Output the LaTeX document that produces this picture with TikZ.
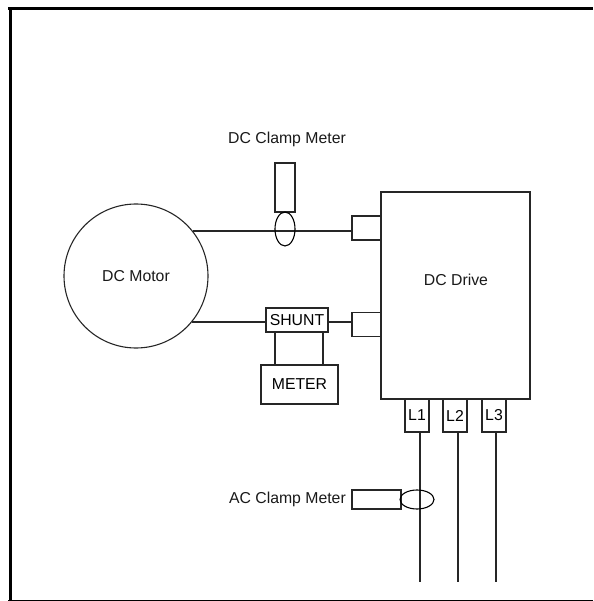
\documentclass[tikz,border=0pt]{standalone}
\usepackage{fontspec}
\setmainfont{Liberation Sans}
\usetikzlibrary{shapes.geometric}
\begin{document}
\begin{tikzpicture}[
    x=1pt, y=-1pt,
    frame line/.style={draw=black, line width=3pt},
    wire line/.style={draw=black!85, line width=1.2pt},
    part box/.style={rectangle, draw=black!85, line width=1.1pt, inner sep=0pt, outer sep=0pt, font=\fontsize{15.8}{18}\selectfont},
    clamp ring/.style={ellipse, draw=black, line width=1.1pt, inner sep=0pt, outer sep=0pt},
    plain label/.style={inner sep=0pt, font=\fontsize{15.8}{18}\selectfont, text=black!90}
]
\useasboundingbox (0,0) rectangle (593,601);

% Frame
\draw[frame line] (8,8.5) -- (593,8.5);
\draw[frame line] (10.5,8.5) -- (10.5,601);
\draw[frame line, line width=2pt] (8,600.5) -- (593,600.5);

% Main blocks
\node[part box, circle, minimum size=144pt] (motor) at (136,276) {};
\node[plain label] (motor text) at (136,276) {DC Motor};
\node[part box, minimum width=149pt, minimum height=207pt] (drive) at (455.5,295.5) {};
\node[plain label] (drive text) at (456,280) {DC Drive};

% Drive terminals
\node[part box, minimum width=29pt, minimum height=24pt] (port top) at (366.5,228) {};
\node[part box, minimum width=29pt, minimum height=24pt] (port low) at (366.5,324.5) {};
\foreach \name/\x in {L1/417,L2/455,L3/494} {
    \node[part box, minimum width=24pt, minimum height=33pt] (\name) at (\x,415.5) {\name};
}

% Shunt and its meter
\node[part box, minimum width=62pt, minimum height=24pt] (shunt) at (297,320) {SHUNT};
\node[part box, minimum width=77pt, minimum height=39pt] (meter) at (299.5,384.5) {METER};

% Motor wires
\coordinate (top wire) at (352,231);
\coordinate (low wire) at (266,322);
\draw[wire line] (motor.38.7 |- top wire) -- (top wire);
\draw[wire line] (motor.-39.7 |- low wire) -- (low wire);
\draw[wire line] (shunt.east |- low wire) -- (port low.west |- low wire);
\draw[wire line] (275,332) -- (275,365);
\draw[wire line] (323,332) -- (323,365);

% Line wires
\foreach \name/\x in {L1/420,L2/458,L3/496} {
    \coordinate (\name end) at (\x,582);
    \draw[wire line] (\name.south -| \name end) -- (\name end);
}

% DC clamp
\node[plain label] (dc label) at (287,139.5) {DC Clamp Meter};
\node[part box, minimum width=20pt, minimum height=49pt] (dc body) at (285,187.5) {};
\node[clamp ring, minimum width=20pt, minimum height=34pt] (dc ring) at (285,229) {};

% AC clamp
\node[plain label, anchor=east] (ac label) at (346,499) {AC Clamp Meter};
\node[part box, minimum width=49pt, minimum height=19pt] (ac body) at (376.5,499.5) {};
\node[clamp ring, minimum width=34pt, minimum height=19pt] (ac ring) at (417,499.5) {};
\end{tikzpicture}
\end{document}
